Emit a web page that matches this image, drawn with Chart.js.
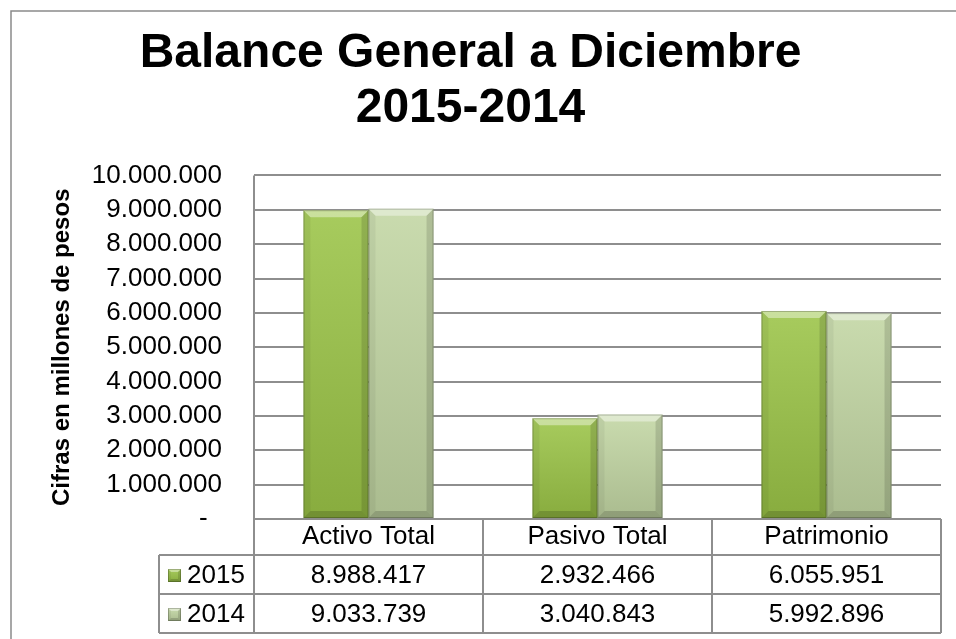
<!DOCTYPE html>
<html>
<head>
<meta charset="utf-8">
<title>Balance General a Diciembre 2015-2014</title>
<script src="https://cdn.jsdelivr.net/npm/chart.js@4.4.1/dist/chart.umd.min.js"></script>
<style>
  html, body { margin: 0; padding: 0; background: #fff; }
</style>
</head>
<body>
<canvas id="balance" width="956" height="639"></canvas>
<script>
// datos del grafico
const categories = ['Activo Total', 'Pasivo Total', 'Patrimonio'];
const seriesNames = ['2015', '2014'];
const values2015 = [8988417, 2932466, 6055951];
const values2014 = [9033739, 3040843, 5992896];
const yMin = 0;
const yMax = 10000000;
const yStep = 1000000;

const FONT = "'Liberation Sans', Arial, sans-serif";
const gridColor = '#8e8e8e';
const barColors = ['#9bc447', '#c2d6a3'];

// 1234567 -> 1.234.567
function puntos(n) {
  return String(n).replace(/\B(?=(\d{3})+(?!\d))/g, '.');
}

function line(ctx, x0, y0, x1, y1) {
  ctx.beginPath();
  ctx.moveTo(x0, y0);
  ctx.lineTo(x1, y1);
  ctx.stroke();
}

// fondo y marco exterior
const framePlugin = {
  id: 'marco',
  beforeDraw(chart) {
    const ctx = chart.ctx;
    ctx.save();
    ctx.fillStyle = '#fff';
    ctx.fillRect(0, 0, chart.width, chart.height);
    ctx.strokeStyle = '#8a8a8a';
    ctx.lineWidth = 1.5;
    ctx.beginPath();
    ctx.moveTo(11, chart.height);
    ctx.lineTo(11, 11);
    ctx.lineTo(chart.width, 11);
    ctx.stroke();
    ctx.restore();
  }
};

// relieve de las barras (bisel)
function bevel(ctx, x0, y0, x1, y1, b) {
  const poly = (pts, fill) => {
    ctx.beginPath();
    ctx.moveTo(pts[0][0], pts[0][1]);
    for (let i = 1; i < pts.length; i++) ctx.lineTo(pts[i][0], pts[i][1]);
    ctx.closePath();
    ctx.fillStyle = fill;
    ctx.fill();
  };
  const g = ctx.createLinearGradient(0, y0, 0, y1);
  g.addColorStop(0, 'rgba(255,255,255,0.12)');
  g.addColorStop(1, 'rgba(0,0,0,0.12)');
  ctx.fillStyle = g;
  ctx.fillRect(x0, y0, x1 - x0, y1 - y0);
  poly([[x0, y0], [x1, y0], [x1 - b, y0 + b], [x0 + b, y0 + b]], 'rgba(255,255,255,0.4)');
  poly([[x0, y0], [x0 + b, y0 + b], [x0 + b, y1 - b], [x0, y1]], 'rgba(0,0,0,0.05)');
  poly([[x1, y0], [x1, y1], [x1 - b, y1 - b], [x1 - b, y0 + b]], 'rgba(0,0,0,0.13)');
  poly([[x0, y1], [x1, y1], [x1 - b, y1 - b], [x0 + b, y1 - b]], 'rgba(0,0,0,0.16)');
  ctx.strokeStyle = 'rgba(0,0,0,0.22)';
  ctx.lineWidth = 1;
  ctx.strokeRect(x0 + 0.5, y0 + 0.5, x1 - x0 - 1, y1 - y0 - 1);
}

const bevelPlugin = {
  id: 'bisel',
  afterDatasetsDraw(chart) {
    const ctx = chart.ctx;
    ctx.save();
    chart.data.datasets.forEach((ds, di) => {
      chart.getDatasetMeta(di).data.forEach(bar => {
        const p = bar.getProps(['x', 'y', 'base', 'width'], true);
        const x0 = p.x - p.width / 2, x1 = p.x + p.width / 2;
        const y0 = Math.min(p.y, p.base), y1 = Math.max(p.y, p.base);
        bevel(ctx, x0, y0, x1, y1, 7);
      });
    });
    ctx.restore();
  }
};

// tabla de datos bajo el eje
const tablePlugin = {
  id: 'tabla',
  afterDraw(chart) {
    const ctx = chart.ctx;
    const a = chart.chartArea;
    const x = chart.scales.x;
    const headerH = 36;
    const rowH = 39;
    const legendLeft = 159;
    const rowTop = a.bottom + headerH;
    const nRows = chart.data.datasets.length;
    const tableBottom = rowTop + nRows * rowH;
    const half = (a.right - a.left) / categories.length / 2;

    ctx.save();
    ctx.strokeStyle = gridColor;
    ctx.lineWidth = 2;
    line(ctx, a.left, a.bottom, a.right, a.bottom);
    for (let r = 0; r <= nRows; r++) {
      line(ctx, legendLeft, rowTop + r * rowH, a.right, rowTop + r * rowH);
    }
    line(ctx, legendLeft, rowTop, legendLeft, tableBottom);
    line(ctx, a.left, a.top, a.left, tableBottom);
    categories.forEach((c, i) => {
      const xr = x.getPixelForValue(i) + half;
      line(ctx, xr, a.bottom, xr, tableBottom);
    });

    ctx.font = '26px ' + FONT;
    ctx.fillStyle = '#000';
    ctx.textBaseline = 'middle';
    chart.data.datasets.forEach((ds, di) => {
      const yc = rowTop + di * rowH + rowH / 2;
      // marcador de la leyenda
      const m = 13, mx = 168, my = yc - m / 2 + 1;
      ctx.fillStyle = ds.backgroundColor;
      ctx.fillRect(mx, my, m, m);
      bevel(ctx, mx, my, mx + m, my + m, 3);
      ctx.fillStyle = '#000';
      ctx.textAlign = 'left';
      ctx.fillText(ds.label, 187, yc + 1);
      ctx.textAlign = 'center';
      ds.data.forEach((v, i) => {
        ctx.fillText(puntos(v), x.getPixelForValue(i), yc + 1);
      });
    });
    ctx.restore();
  }
};

new Chart(document.getElementById('balance'), {
  type: 'bar',
  data: {
    labels: categories,
    datasets: [
      { label: seriesNames[0], data: values2015, backgroundColor: barColors[0] },
      { label: seriesNames[1], data: values2014, backgroundColor: barColors[1] }
    ]
  },
  options: {
    responsive: false,
    devicePixelRatio: 1,
    animation: false,
    categoryPercentage: 0.568,
    barPercentage: 1.0,
    layout: { padding: { left: 0, right: 15, top: 0, bottom: 0 } },
    plugins: {
      legend: { display: false },
      tooltip: { enabled: false },
      title: {
        display: true,
        text: ['Balance General a Diciembre', '2015-2014'],
        color: '#000',
        font: { family: FONT, size: 48, weight: 'bold', lineHeight: 1.13 },
        padding: { top: 27, bottom: 40 }
      }
    },
    scales: {
      x: {
        grid: { display: false },
        border: { display: false },
        ticks: {
          color: '#000',
          font: { family: FONT, size: 26 },
          padding: -6,
          maxRotation: 0,
          autoSkip: false
        },
        afterFit(scale) { scale.height = 120; }
      },
      y: {
        min: yMin,
        max: yMax,
        grid: { color: gridColor, lineWidth: 2, drawTicks: false },
        border: { display: false },
        ticks: {
          stepSize: yStep,
          padding: 32,
          color: '#000',
          font: { family: FONT, size: 26 },
          callback: v => (v === 0 ? '-  ' : puntos(v))
        },
        title: {
          display: true,
          text: 'Cifras en millones de pesos',
          color: '#000',
          font: { family: FONT, size: 24, weight: 'bold' },
          padding: { top: 48, bottom: 0 }
        },
        afterFit(scale) { scale.width = 254; }
      }
    }
  },
  plugins: [framePlugin, bevelPlugin, tablePlugin]
});
</script>
</body>
</html>
